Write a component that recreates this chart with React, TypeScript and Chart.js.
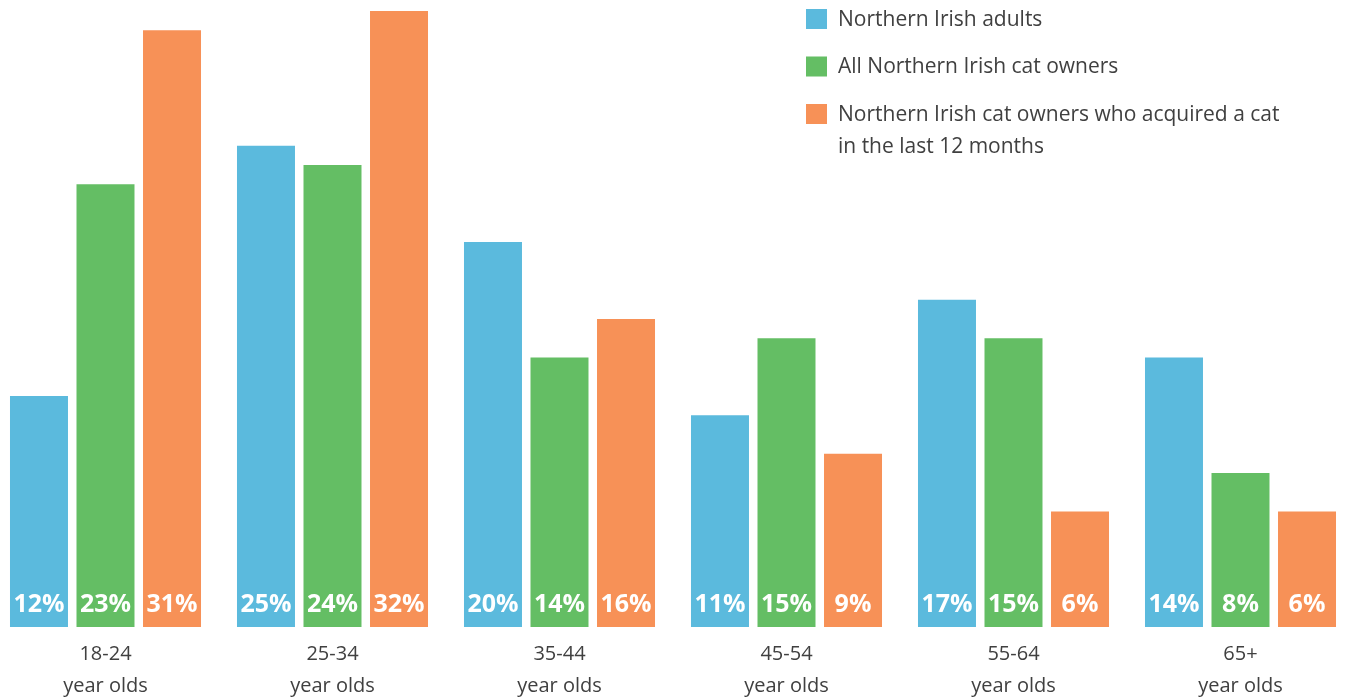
import React, { useEffect, useRef } from "react";
import { Chart, registerables } from "chart.js";

Chart.register(...registerables);

const categories: string[][] = [
  ["18-24", "year olds"],
  ["25-34", "year olds"],
  ["35-44", "year olds"],
  ["45-54", "year olds"],
  ["55-64", "year olds"],
  ["65+", "year olds"],
];

const seriesNames = [
  "Northern Irish adults",
  "All Northern Irish cat owners",
  "Northern Irish cat owners who acquired a cat in the last 12 months",
];

const legendLines: string[][] = [
  ["Northern Irish adults"],
  ["All Northern Irish cat owners"],
  ["Northern Irish cat owners who acquired a cat", "in the last 12 months"],
];

const adults = [12, 25, 20, 11, 17, 14];
const allOwners = [23, 24, 14, 15, 15, 8];
const recentOwners = [31, 32, 16, 9, 6, 6];

const colors = ["#5BBADD", "#64BE64", "#F79157"];
const textColor = "#404040";
const FONT = "'Open Sans', 'Noto Sans', sans-serif";

const valueLabelPlugin = {
  id: "valueLabels",
  afterDatasetsDraw(chart: any) {
    const ctx = chart.ctx;
    const bottom = chart.chartArea.bottom;
    ctx.save();
    ctx.fillStyle = "#ffffff";
    ctx.font = `bold 25px ${FONT}`;
    ctx.textAlign = "center";
    ctx.textBaseline = "middle";
    chart.data.datasets.forEach((ds: any, i: number) => {
      const meta = chart.getDatasetMeta(i);
      meta.data.forEach((el: any, j: number) => {
        ctx.fillText(`${ds.data[j]}%`, el.x, bottom - 22.5);
      });
    });
    ctx.restore();
  },
};

const legendPlugin = {
  id: "customLegend",
  afterDraw(chart: any) {
    const ctx = chart.ctx;
    ctx.save();
    const x0 = 814;
    let y = 19;
    ctx.font = `21px ${FONT}`;
    ctx.textBaseline = "middle";
    ctx.textAlign = "left";
    chart.data.datasets.forEach((ds: any, i: number) => {
      ctx.fillStyle = ds.backgroundColor;
      ctx.fillRect(x0, y - 10, 21, 20);
      ctx.fillStyle = textColor;
      const lines = legendLines[i];
      lines.forEach((ln, k) => {
        ctx.fillText(ln, x0 + 32, y + 1 + k * 32);
      });
      y += 47.5;
    });
    ctx.restore();
  },
};

export default function App() {
  const ref = useRef<HTMLCanvasElement | null>(null);
  useEffect(() => {
    document.body.style.margin = "0";
    if (!ref.current) return;
    const chart = new Chart(ref.current, {
      type: "bar",
      data: {
        labels: categories,
        datasets: [adults, allOwners, recentOwners].map((d, i) => ({
          label: seriesNames[i],
          data: d,
          backgroundColor: colors[i],
          borderWidth: 0,
          categoryPercentage: 0.879,
          barPercentage: 0.872,
        })),
      },
      options: {
        responsive: false,
        animation: false,
        devicePixelRatio: 1,
        layout: { padding: { top: 11, left: 0, right: 0, bottom: 0 } },
        plugins: {
          legend: { display: false },
          tooltip: { enabled: false },
        },
        scales: {
          x: {
            grid: { display: false, drawTicks: false },
            border: { display: false },
            ticks: {
              color: textColor,
              font: { family: FONT, size: 20, lineHeight: 1.6 },
              padding: 11,
              maxRotation: 0,
              autoSkip: false,
            },
            afterFit(scale: any) {
              scale.height = 72;
            },
          },
          y: {
            display: false,
            min: 0,
            max: 32,
          },
        },
      },
      plugins: [valueLabelPlugin, legendPlugin],
    });
    return () => chart.destroy();
  }, []);
  return (
    <div style={{ position: "fixed", left: 0, top: 0, width: 1346, height: 699, overflow: "hidden", background: "#fff" }}>
      <div style={{ position: "absolute", left: -8, top: 0, width: 1362, height: 699 }}>
        <canvas ref={ref} width={1362} height={699} style={{ display: "block", width: 1362, height: 699 }} />
      </div>
    </div>
  );
}
